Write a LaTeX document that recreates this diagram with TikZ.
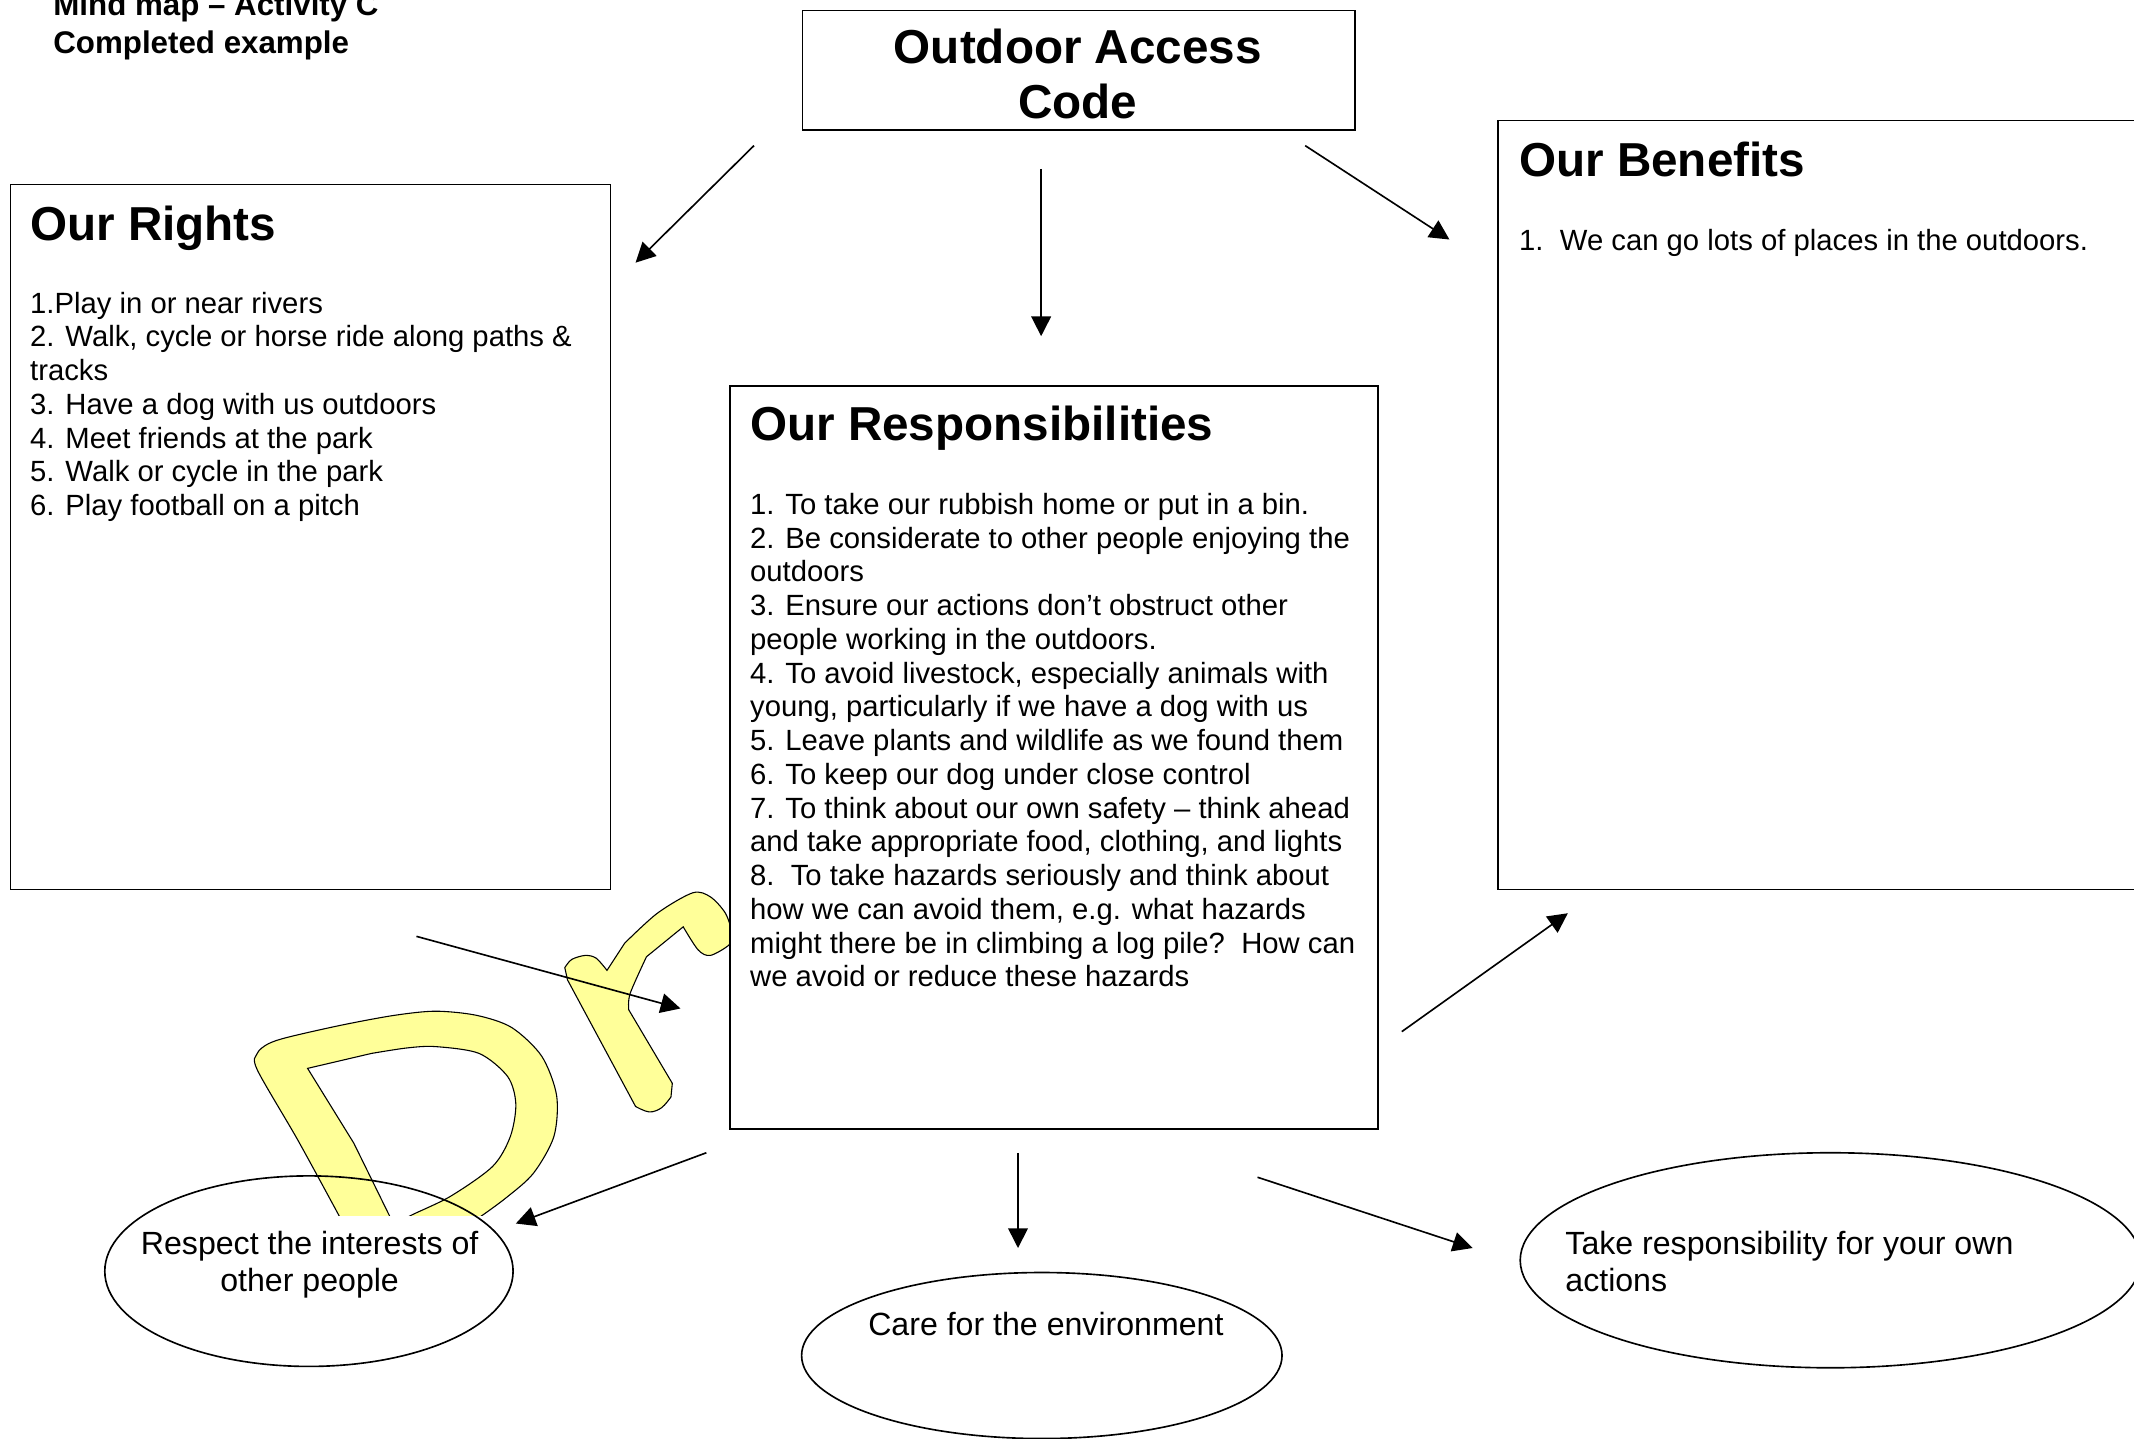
\documentclass[tikz,border=0pt]{standalone}
\usepackage{fontspec}
\setmainfont{Liberation Sans}
\usetikzlibrary{arrows.meta,shapes.geometric}
\definecolor{wmyellow}{HTML}{FFFF99}
\begin{document}
\begin{tikzpicture}[x=1pt,y=-1pt,
  frame/.style={draw=black, line width=1.2pt, fill=white, inner sep=0pt, anchor=north west},
  oval/.style={draw=black, line width=1.2pt, ellipse, inner sep=0pt},
  body/.style={inner sep=0pt, anchor=base west, align=left, font=\fontsize{21.5}{24.8}\selectfont},
  ovaltext/.style={inner sep=0pt, anchor=base west, align=left, font=\fontsize{23.6}{27.1}\selectfont},
  head/.style={inner sep=0pt, anchor=base west, align=left, font=\bfseries\fontsize{35}{40.2}\selectfont},
  toptitle/.style={inner sep=0pt, anchor=base west, align=left, font=\bfseries\fontsize{23}{27.7}\selectfont},
  conn/.style={line width=1.2pt, -{Triangle[length=14.5pt,width=14.5pt]}},
  wm/.style={fill=wmyellow, draw=black, line width=0.8pt, even odd rule}
]
\clip (0,0) rectangle (1568,1057);
\fill[white] (0,0) rectangle (1568,1057);

% watermark "Dr" (clipped)
\begin{scope}
\clip (0,0) rectangle (1568,893);
\path[wm] (255,905) -- plot[smooth,tension=0.5] coordinates {(249,893) (219,838) (189,786) (189,774) (197,767) (212,762) (252,753) (290,746) (320,743) (350,746) (376,755) (398,776) (409,805) (407,835) (392,862) (372,880) (350,896) (335,905)} -- cycle
  (226,785) -- plot[smooth,tension=0.5] coordinates {(273,774) (299,770) (320,769) (352,774) (373,791) (379,811) (375,835) (362,857) (331,879) (302,893) (294,898)} -- (288,897) -- (260,840) -- cycle;
\path[wm] (417,720) -- plot[smooth,tension=0.5] coordinates {(415,711) (420,705) (430,702) (438,704) (446,713)}
  -- plot[smooth,tension=0.5] coordinates {(459,693) (483,671) (509,656) (522,659) (533,671) (538,686) (536,694) (522,702) (513,698) (502,681)}
  -- plot[smooth,tension=0.5] coordinates {(475,703) (463,730) (462,742)}
  -- (494,796) -- plot[smooth,tension=0.6] coordinates {(493,806) (486,814) (477,817) (467,813)} -- cycle;
\end{scope}

% boxes
\node[frame, minimum width=406pt, minimum height=88pt] (code) at (589,7) {};
\node[frame, minimum width=441pt, minimum height=518pt] (rights) at (7,135) {};
\node[frame, minimum width=520pt, minimum height=565pt] (benefits) at (1100,88) {};
\node[frame, minimum width=476pt, minimum height=546pt] (resp) at (536,283) {};

% ellipses
\node[oval, minimum width=300pt, minimum height=140pt] (respect) at (227,934) {};
\node[oval, minimum width=353pt, minimum height=122pt] (care) at (765.5,996) {};
\node[oval, minimum width=456pt, minimum height=158pt] (take) at (1345,926) {};

% texts (multi-line nodes are anchored at the baseline of their last line)
\node[toptitle] (mm) at (39,39.2) {Mind map – Activity C\\Completed example};
\node[head, align=center, anchor=base] (codeT) at (792,87.2) {Outdoor Access\\Code};
\node[head] (rightsH) at (22,177) {Our Rights};
\node[body] (rightsT) at (22,378.8) {1.Play in or near rivers\\2. Walk, cycle or horse ride along paths \&\\tracks\\3. Have a dog with us outdoors\\4. Meet friends at the park\\5. Walk or cycle in the park\\6. Play football on a pitch};
\node[head] (benH) at (1116,130) {Our Benefits};
\node[body] (benT) at (1116,184) {\makebox[30pt][l]{1.}We can go lots of places in the outdoors.};
\node[head] (respH) at (551,324) {Our Responsibilities};
\node[body] (respT) at (551,725.2) {1. To take our rubbish home or put in a bin.\\2. Be considerate to other people enjoying the\\outdoors\\3. Ensure our actions don’t obstruct other\\people working in the outdoors.\\4. To avoid livestock, especially animals with\\young, particularly if we have a dog with us\\5. Leave plants and wildlife as we found them\\6. To keep our dog under close control\\7. To think about our own safety – think ahead\\and take appropriate food, clothing, and lights\\8.\ \ To take hazards seriously and think about\\how we can avoid them, e.g. what hazards\\might there be in climbing a log pile?\ \ How can\\we avoid or reduce these hazards};
\node[ovaltext, align=center, anchor=base] (respectT) at (227.5,949) {Respect the interests of\\other people};
\node[ovaltext, anchor=base] (careT) at (768.5,981) {Care for the environment};
\node[ovaltext] (takeT) at (1150,949) {Take responsibility for your own\\actions};

% connectors
\coordinate (a1s) at (554,107); \coordinate (a1e) at (467,193);
\coordinate (a2s) at (765,124); \coordinate (a2e) at (765,247);
\coordinate (a3s) at (959,107); \coordinate (a3e) at (1065,176);
\coordinate (a4s) at (306,688); \coordinate (a4e) at (500,741);
\coordinate (a5s) at (1030,758); \coordinate (a5e) at (1152,671);
\coordinate (a6s) at (519,847); \coordinate (a6e) at (379,899);
\coordinate (a7s) at (748,847); \coordinate (a7e) at (748,917);
\coordinate (a8s) at (924,865); \coordinate (a8e) at (1082,917);
\foreach \i in {1,...,8} {\draw[conn] (a\i s) -- (a\i e);}
\end{tikzpicture}
\end{document}
